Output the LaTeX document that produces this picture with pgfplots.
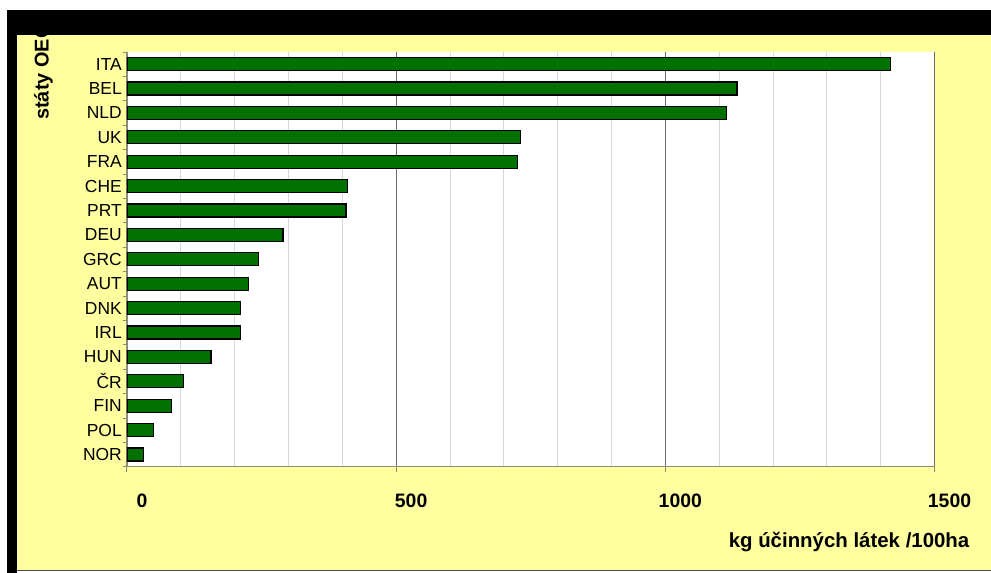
\documentclass[border=0pt]{standalone}
\usepackage{pgfplots}
\pgfplotsset{compat=1.18}
\usepackage{fontspec}
\setmainfont{Liberation Sans}
\definecolor{bgyellow}{RGB}{255,255,160}
\definecolor{bargreen}{RGB}{0,112,0}
\definecolor{gridminor}{RGB}{215,215,215}
\definecolor{gridmajor}{RGB}{110,110,110}
\definecolor{axisgray}{RGB}{140,140,120}
\begin{document}
\begin{tikzpicture}[x=1bp,y=1bp]
\fill[white] (0,0) rectangle (991,573);
\fill[bgyellow] (17,2) rectangle (991,538);
\draw[black!70,line width=1bp] (17,2) -- (991,2);
\fill[black] (7,538) rectangle (991,563);
\fill[black] (7,0) rectangle (17,563);
\begin{scope}
\clip (17,0) rectangle (991,538);
\node[rotate=90,anchor=south west,font=\bfseries\fontsize{20}{22}\selectfont,inner sep=0pt] at (53,453) {státy OECD};
\end{scope}
\begin{axis}[
  at={(127bp,106bp)}, anchor=south west,
  scale only axis, width=808bp, height=415bp,
  xbar, bar width=13bp,
  xmin=0, xmax=1500, ymin=-0.5, ymax=16.5,
  axis background/.style={fill=white},
  axis lines=left, axis line style={-,axisgray,line width=1.2bp},
  xtick={0,500,1000,1500},
  minor xtick={100,200,300,400,600,700,800,900,1100,1200,1300,1400},
  xmajorgrids, xminorgrids,
  major grid style={gridmajor,line width=0.8bp},
  minor grid style={gridminor,line width=0.8bp},
  major x tick style={axisgray,line width=1bp},
  minor x tick style={draw=none},
  tick align=outside, major tick length=5bp,
  xticklabel style={font=\bfseries\fontsize{19.5}{22}\selectfont,xshift=15bp,yshift=-19bp},
  /pgf/number format/assume math mode=true,
  /pgf/number format/1000 sep={},
  ytick={0,...,16},
  yticklabels={NOR,POL,FIN,ČR,HUN,IRL,DNK,AUT,GRC,DEU,PRT,CHE,FRA,UK,NLD,BEL,ITA},
  major y tick style={draw=none},
  minor ytick={-0.5,0.5,...,16.5},
  minor y tick style={axisgray,line width=0.8bp},
  minor tick length=4bp,
  yticklabel style={font=\fontsize{17.5}{19}\selectfont,inner sep=0pt,xshift=0bp},
  xlabel={},
]
\addplot[fill=bargreen,draw=black,line width=1.2bp] coordinates {
(31,0) (50,1) (83,2) (105,3) (156,4) (211,5) (211,6) (226,7) (245,8) (290,9)
(407,10) (410,11) (726,12) (731,13) (1114,14) (1133,15) (1418,16)
};
\end{axis}
\node[anchor=base east,font=\bfseries\fontsize{20.5}{22}\selectfont,inner sep=0pt] at (970,25) {kg účinných látek /100ha};
\end{tikzpicture}
\end{document}
